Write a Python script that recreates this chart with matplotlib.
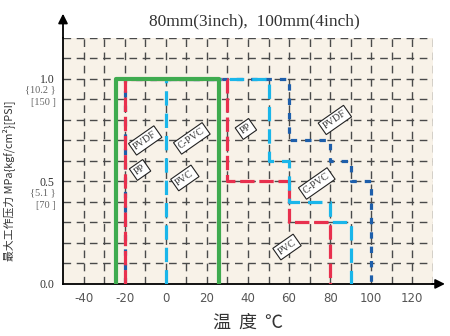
import numpy as np
import matplotlib.pyplot as plt

# datos de las curvas (temperatura en C, presion en MPa)
verde_t = [-24, -24, 26, 26]
verde_p = [0, 1.0, 1.0, 0]
pvdf_t = [-20, -20, 60, 60, 80, 80, 90, 90, 100, 100]
pvdf_p = [0, 1.0, 1.0, 0.7, 0.7, 0.6, 0.6, 0.5, 0.5, 0]
pp_t = [-20, -20, 30, 30, 60, 60, 80, 80]
pp_p = [0, 1.0, 1.0, 0.5, 0.5, 0.3, 0.3, 0]
cpvc_t = [0, 0, 50, 50, 60, 60, 80, 80, 90, 90]
cpvc_p = [0, 1.0, 1.0, 0.6, 0.6, 0.4, 0.4, 0.3, 0.3, 0]

# etiquetas de las curvas
etiquetas = ['PVDF', 'C-PVC', 'PP', 'PVC', 'PP', 'PVDF', 'C-PVC', 'PVC']
etiq_t = [-10, 12.7, -12.5, 9.3, 39, 82.3, 73.5, 59]
etiq_p = [0.70, 0.71, 0.556, 0.517, 0.756, 0.80, 0.49, 0.18]

xticks = [-40, -20, 0, 20, 40, 60, 80, 100, 120]
yticks = [0.0, 0.5, 1.0]
yticks_lab = ['0.0', '0.5', '1.0']
kgf_lab = ['', '{5.1 }', '{10.2 }']
psi_lab = ['', '[70 ]', '[150 ]']

fig = plt.figure(figsize=(4.5, 3.36), dpi=100)
ax = fig.add_axes([0.14, 0.155, 0.822, 0.732])
ax.set_facecolor('#f8f2e8')
ax.set_xlim(-50, 130)
ax.set_ylim(0, 1.2)

# rejilla
for x in range(-40, 131, 10):
    ax.plot([x, x], [0, 1.2], color='#4a4a4a', lw=1.0, dashes=(5.5, 4), zorder=1)
for y in np.arange(0.1, 1.21, 0.1):
    ax.plot([-50, 130], [y, y], color='#4a4a4a', lw=1.0, dashes=(5.5, 4), zorder=1)

# curvas
ax.plot(pvdf_t, pvdf_p, color='#1e5fab', lw=2.3, dashes=(2, 2.5), zorder=3)
ax.plot(pp_t, pp_p, color='#e8304e', lw=2.3, dashes=(4.5, 1.5), zorder=4)
ax.plot(cpvc_t, cpvc_p, color='#1ab6ea', lw=2.3, dashes=(4.5, 2.5), zorder=5)
ax.plot(verde_t, verde_p, color='#3fab4f', lw=3.0, zorder=6)

for txt, t, p in zip(etiquetas, etiq_t, etiq_p):
    ax.text(t, p, txt, rotation=35, ha='center', va='center', fontsize=7.3,
            family='Liberation Serif', color='#333333', zorder=8,
            bbox=dict(boxstyle='square,pad=0.25', fc='white', ec='#222222', lw=0.8))

# ejes
for s in ['top', 'right']:
    ax.spines[s].set_visible(False)
ax.spines['left'].set_linewidth(1.3)
ax.spines['bottom'].set_linewidth(1.3)
ax.annotate('', xy=(0, 1.11), xytext=(0, 0.99), xycoords='axes fraction',
            arrowprops=dict(arrowstyle='-|>', color='black', lw=1.3, mutation_scale=14))
ax.annotate('', xy=(1.04, 0), xytext=(0.99, 0), xycoords='axes fraction',
            arrowprops=dict(arrowstyle='-|>', color='black', lw=1.3, mutation_scale=14))

ax.set_xticks(xticks)
ax.set_xticklabels([str(v) for v in xticks], fontsize=8.5, color='#555555')
ax.set_yticks(yticks)
ax.set_yticklabels(yticks_lab, fontsize=8.5, color='#333333', family='Liberation Serif')
ax.tick_params(length=0, pad=6)
for y, a, b in zip(yticks, kgf_lab, psi_lab):
    ax.text(-53.5, y - 0.055, a, ha='right', va='center', fontsize=7.5,
            color='#666666', family='Liberation Serif')
    ax.text(-53.5, y - 0.115, b, ha='right', va='center', fontsize=7.5,
            color='#666666', family='Liberation Serif')

ax.set_ylabel('最大工作压力 MPa{kgf/cm²}[PSI]', fontsize=7.8, color='#333333',
              family=['Noto Sans CJK SC', 'DejaVu Sans'], labelpad=22)
ax.yaxis.set_label_coords(-0.13, 0.42)
ax.set_xlabel('温  度  ℃', fontsize=13, color='#333333',
              family=['Noto Sans CJK SC', 'DejaVu Sans'], labelpad=6)
fig.text(0.565, 0.935, '80mm(3inch),  100mm(4inch)', ha='center', va='center',
         fontsize=12.5, color='#333333', family='Liberation Serif')

fig.savefig('out.png', dpi=100)
